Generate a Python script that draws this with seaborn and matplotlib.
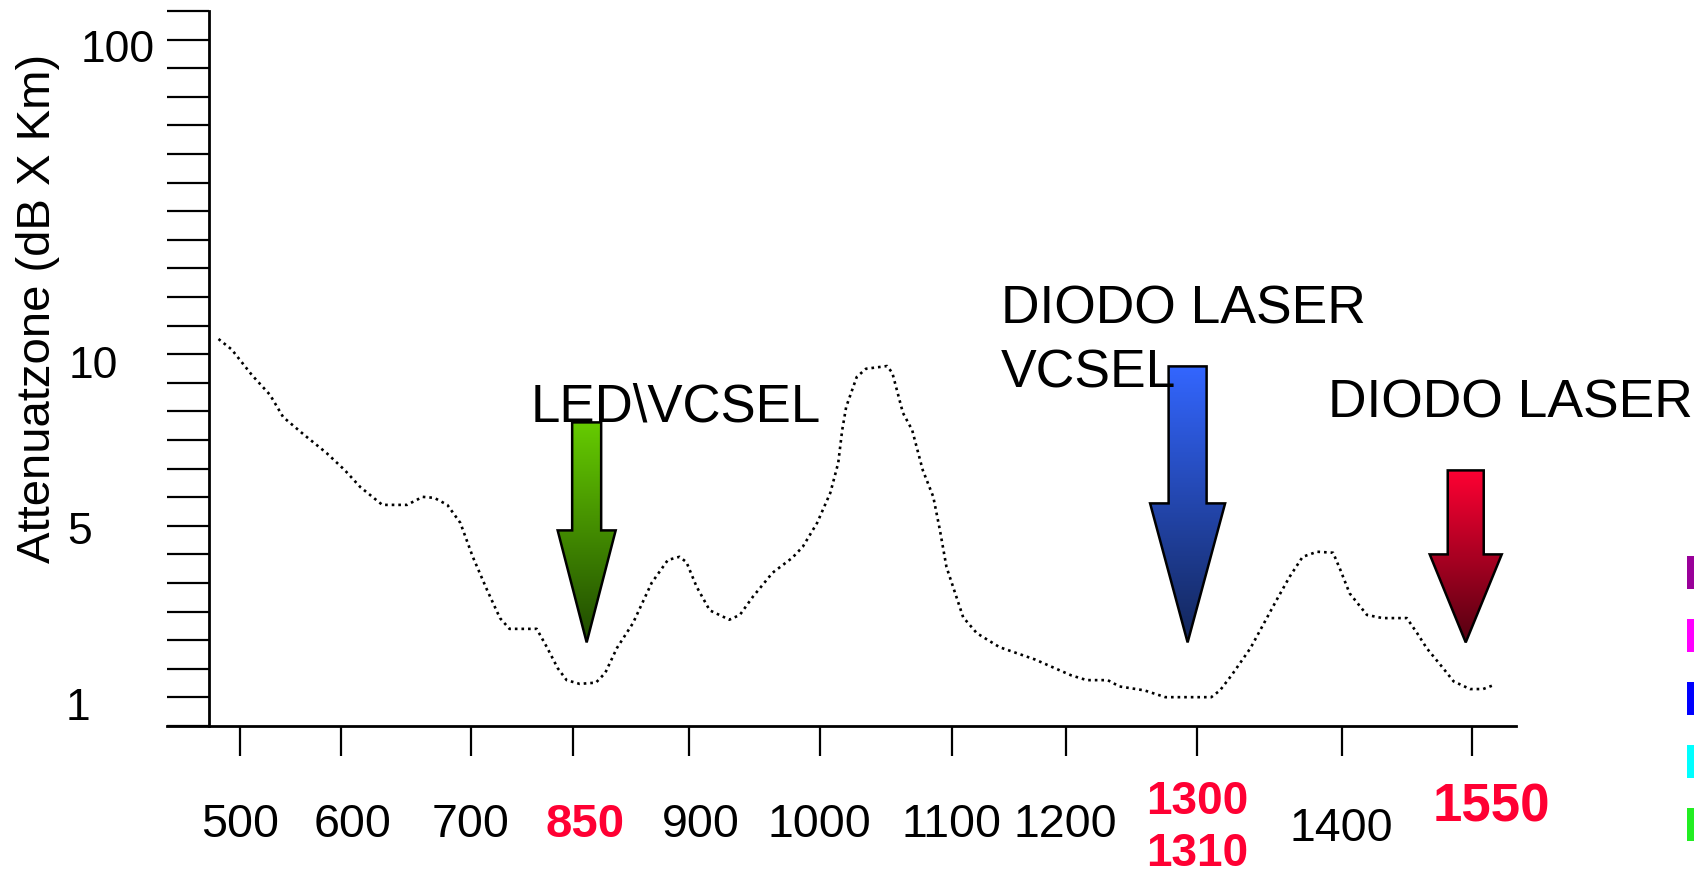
import numpy as np
import matplotlib
matplotlib.use('Agg')
import matplotlib.pyplot as plt
from matplotlib.patches import Polygon, Rectangle
from matplotlib.colors import LinearSegmentedColormap
from matplotlib.ticker import FixedLocator, NullLocator
import seaborn as sns

# attenuation curve
wavelength = [479, 492, 512, 530, 543, 564, 586, 603, 615, 632,
              651, 663, 672, 682, 692, 703, 724, 743, 757, 797,
              812, 828, 841, 853, 860, 864, 869, 876, 884, 891,
              896, 899, 906, 916, 931, 939, 949, 964, 979, 987,
              998, 1008, 1014, 1017, 1020, 1028, 1035, 1051, 1055, 1063,
              1070, 1078, 1086, 1091, 1096, 1104, 1110, 1122, 1142, 1173,
              1204, 1216, 1232, 1241, 1260, 1276, 1310, 1316, 1324, 1337,
              1355, 1364, 1373, 1383, 1394, 1399, 1409, 1429, 1447, 1475,
              1487, 1498, 1517, 1529, 1548, 1563, 1575]
attenuation = [12.7, 11.8, 9.86, 8.57, 7.33, 6.46, 5.69, 5.05, 4.48, 3.95,
               3.95, 4.18, 4.15, 3.95, 3.48, 2.74, 2.17, 1.78, 1.65, 1.65,
               1.45, 1.25, 1.15, 1.12, 1.13, 1.21, 1.44, 1.72, 2.28, 2.68,
               2.74, 2.64, 2.22, 1.88, 1.76, 1.82, 2.07, 2.45, 2.72, 2.94,
               3.48, 4.30, 5.31, 6.69, 7.87, 9.72, 10.3, 10.5, 10.0, 7.55,
               6.69, 5.05, 4.18, 3.31, 2.55, 2.07, 1.79, 1.60, 1.45, 1.33,
               1.19, 1.15, 1.15, 1.10, 1.07, 1.02, 1.02, 1.07, 1.19, 1.44,
               2.02, 2.38, 2.74, 2.84, 2.82, 2.50, 2.12, 1.82, 1.78, 1.78,
               1.60, 1.44, 1.25, 1.14, 1.08, 1.08, 1.11]

tick_nm = [500, 600, 700, 850, 900, 1000, 1100, 1200, 1300, 1400, 1550]
tick_text = ['500', '600', '700', '850', '900', '1000', '1100', '1200', '1300\n1310', '1400', '1550']
red_ticks = ['850', '1300\n1310', '1550']

ylabel_vals = [1, 10 ** 0.5, 10, 100]
ylabel_text = ['1', '5', '10', '100']

arrow_nm = [856, 1293, 1543]
arrow_tip = 1.5
arrow_colors = [('#1f4a00', '#66cc00'), ('#13265a', '#3366ff'), ('#550011', '#ff0033')]

side_colors = ['#990099', '#ff00ff', '#0000ff', '#00ffff', '#22ee22']

# the slide draws the wavelength ticks at uneven spacing -> piecewise scale
tick_pos = [240, 341, 471, 573, 689, 820, 952, 1066, 1197, 1342, 1472]
s0 = (tick_pos[1] - tick_pos[0]) / (tick_nm[1] - tick_nm[0])
s1 = (tick_pos[-1] - tick_pos[-2]) / (tick_nm[-1] - tick_nm[-2])
knot_nm = [0] + tick_nm + [3000]
knot_pos = [tick_pos[0] - tick_nm[0] * s0] + tick_pos + [tick_pos[-1] + (3000 - tick_nm[-1]) * s1]


def fwd(w):
    return np.interp(np.asarray(w, float), knot_nm, knot_pos)


def inv(p):
    return np.interp(np.asarray(p, float), knot_pos, knot_nm)


sns.set_style('white')
plt.rcParams['font.family'] = ['Liberation Sans', 'DejaVu Sans']
plt.rcParams['text.color'] = 'black'

W, H = 1694, 877
fig = plt.figure(figsize=(W / 100, H / 100), dpi=100)
ax = fig.add_axes([167 / W, 1 - 726 / H, (1516 - 167) / W, (726 - 11) / H])

sns.lineplot(x=wavelength, y=attenuation, ax=ax, color='black', estimator=None,
             linewidth=1.9, linestyle=(0, (1, 1.5)))

ax.set_xscale('function', functions=(fwd, inv))
ax.set_yscale('log')
ylo, yhi = 0.8326, 127.9
ax.set_xlim(428, 1601)
ax.set_ylim(ylo, yhi)

ax.xaxis.set_major_locator(FixedLocator(tick_nm))
ax.xaxis.set_minor_locator(NullLocator())
ax.yaxis.set_major_locator(FixedLocator(np.geomspace(ylo, yhi, 26)))
ax.yaxis.set_minor_locator(NullLocator())
ax.tick_params(labelleft=False, labelbottom=False, colors='black')
ax.tick_params(axis='y', direction='out', length=30, width=1.6, left=True)
ax.tick_params(axis='x', direction='out', length=21.6, width=1.6, bottom=True)
ax.spines['top'].set_visible(False)
ax.spines['right'].set_visible(False)
ax.spines['left'].set_position(('axes', 0.031))
for side in ['left', 'bottom']:
    ax.spines[side].set_color('black')
    ax.spines[side].set_linewidth(2)
ax.grid(False)

# overlay in pixel units for the slide annotations
ov = fig.add_axes([0, 0, 1, 1])
ov.set_axis_off()
ov.set_zorder(3)

RED = '#ff0033'
# small hand-placement nudges of the slide's labels (pixels)
xlabel_nudge = {'600': 12, '850': 12, '900': 12, '1550': 20}

for nm, txt in zip(tick_nm, tick_text):
    px = ax.transData.transform((nm, 1))[0] + xlabel_nudge.get(txt, 0)
    if txt == '1300\n1310':
        top, bottom = txt.split('\n')
        ov.text(px, H - 814, top, ha='center', va='baseline', fontsize=33,
                fontweight='bold', color=RED)
        ov.text(px, H - 866, bottom, ha='center', va='baseline', fontsize=33,
                fontweight='bold', color=RED)
    elif txt in red_ticks:
        base = 821 if txt == '1550' else 837
        size = 38 if txt == '1550' else 34
        ov.text(px, H - base, txt, ha='center', va='baseline', fontsize=size,
                fontweight='bold', color=RED)
    else:
        base = 841 if txt == '1400' else 837
        ov.text(px, H - base, txt, ha='center', va='baseline', fontsize=33.5, color='black')

# y labels
ylabel_x = {'1': 66, '5': 67, '10': 69, '100': 81}
ylabel_nudge = {'1': -4, '5': 8, '10': 11, '100': 0}
for v, txt in zip(ylabel_vals, ylabel_text):
    py = ax.transData.transform((500, v))[1]
    ov.text(ylabel_x[txt], py - 16 + ylabel_nudge[txt], txt, ha='left', va='baseline',
            fontsize=32, color='black')

ov.text(38, H - 308, 'Attenuatzone (dB X Km)', rotation=90, ha='center', va='center',
        fontsize=34, color='black')

# gradient block arrows
arrow_shape = [(29, 58, 112, 220), (38, 75, 139, 276), (36, 72, 88, 172)]
for nm, (c_bot, c_top), (sw, hw, hl, tl) in zip(arrow_nm, arrow_colors, arrow_shape):
    tx, ty = ax.transData.transform((nm, arrow_tip))
    yb, yt = ty + hl, ty + tl
    verts = [(tx, ty), (tx + hw / 2, yb), (tx + sw / 2, yb), (tx + sw / 2, yt),
             (tx - sw / 2, yt), (tx - sw / 2, yb), (tx - hw / 2, yb)]
    poly = Polygon(verts, closed=True, facecolor='none', edgecolor='black',
                   linewidth=1.8, zorder=4, joinstyle='miter')
    ov.add_patch(poly)
    cmap = LinearSegmentedColormap.from_list('g', [c_bot, c_top])
    im = ov.imshow(np.linspace(0, 1, 256)[:, None], extent=(tx - hw / 2, tx + hw / 2, ty, yt),
                   origin='lower', cmap=cmap, aspect='auto', zorder=3, interpolation='bilinear')
    im.set_clip_path(poly)

ov.text(531, H - 422, 'LED\\VCSEL', ha='left', va='baseline', fontsize=38, color='black', zorder=6)
ov.text(1001, H - 323, 'DIODO LASER', ha='left', va='baseline', fontsize=38.5, color='black', zorder=6)
ov.text(1001, H - 387, 'VCSEL', ha='left', va='baseline', fontsize=38.5, color='black', zorder=6)
ov.text(1328, H - 417, 'DIODO LASER', ha='left', va='baseline', fontsize=38.5, color='black', zorder=6)

# cut-off colour swatches at the right edge of the slide
for i, c in enumerate(side_colors):
    ov.add_patch(Rectangle((1687, H - 589 - i * 63), 8, 33, facecolor=c, edgecolor='none'))

ov.set_xlim(0, W)
ov.set_ylim(0, H)

fig.savefig('out.png', dpi=100)
